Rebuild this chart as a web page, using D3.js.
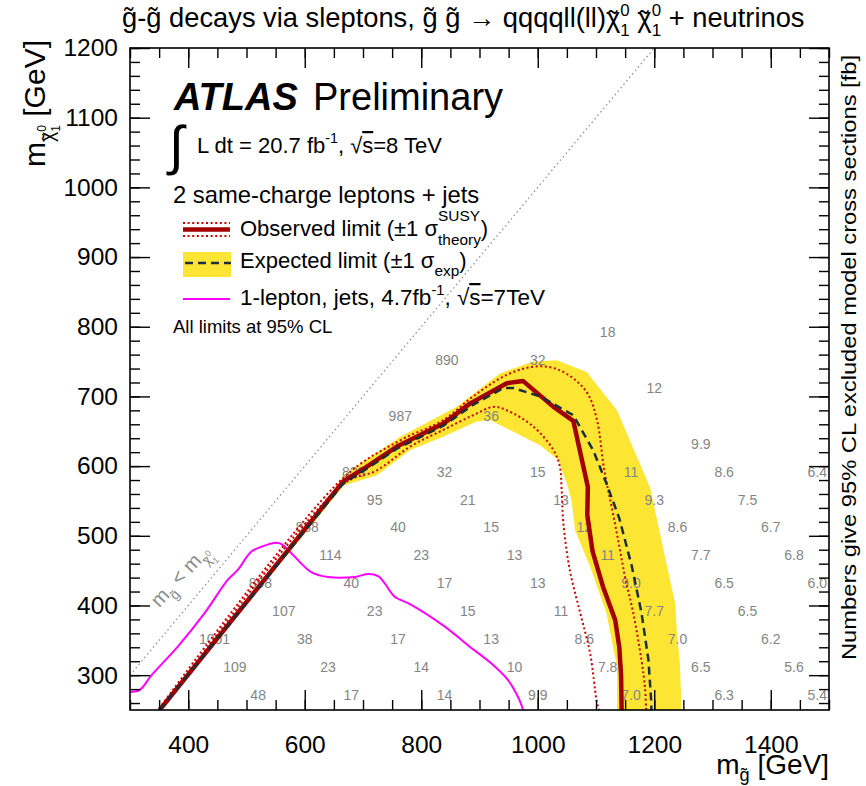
<!DOCTYPE html>
<html>
<head>
<meta charset="utf-8">
<script src="https://cdn.jsdelivr.net/npm/d3@7"></script>
<style>
  body { margin: 0; background: #fff; }
  text { font-family: "Liberation Sans", Arial, Helvetica, sans-serif; white-space: pre; }
</style>
</head>
<body>
<svg id="chart"></svg>
<script>
// Data (m_gluino, m_neutralino) in GeV
const obsLimit = [[351,250],[666,578],[706,599],[758,628],[792,642],[838,661],[884,690],[947,719],[975,722],
  [1027,685],[1061,665],[1086,570],[1085,530],[1094,478],[1112,427],[1133,379],[1140,340],[1143,300],[1144,250]];
const obsUp = [[350,252],[666,583],[764,637],[838,666],[889,700],[947,731],[995,743],[1030,740],[1064,724],
  [1087,702],[1102,665],[1114,595],[1128,537],[1140,485],[1150,440],[1164,389],[1178,322],[1184,283],[1186,250]];
const obsDown = [[353,250],[666,574],[724,594],[781,628],[838,652],[889,673],[924,685],[947,680],[992,657],
  [1027,623],[1038,599],[1041,566],[1044,518],[1055,451],[1073,389],[1090,331],[1101,264],[1105,250]];
const expLimit = [[351,250],[666,575],[706,596],[758,625],[792,639],[838,658],[889,688],[941,712],[958,712],
  [1004,700],[1061,673],[1095,623],[1118,575],[1140,525],[1161,458],[1178,390],[1190,322],[1195,260],[1195,250]];
const expBandOuter = [[348,250],[664,581],[666,587],[764,642],[861,685],[935,733],[992,750],[1033,752],
  [1084,735],[1136,680],[1193,569],[1221,460],[1236,403],[1239,360],[1244,317],[1247,250]];
const expBandInner = [[1136,250],[1136,312],[1118,389],[1090,456],[1064,508],[1058,551],[1050,575],[1035,609],
  [1004,630],[935,659],[918,666],[895,664],[838,642],[781,623],[724,587],[667,572],[354,250]];
const oneLepton7TeV = [[300,276],[317,279],[337,300],[382,341],[428,389],[468,437],[485,451],[508,477],[525,484],
  [551,490],[560,488],[577,475],[611,448],[640,441],[686,441],[709,445],[726,442],[737,432],[754,413],
  [783,401],[840,370],[880,343],[920,317],[949,293],[966,269],[975,250]];
const kinematicLimit = [[300,300],[1200,1200]];

// excluded cross sections [fb] at grid points: [m_gluino, m_neutralino, label]
const xsecNumbers = [
  [520,272,"48"],[680,272,"17"],[840,272,"14"],[1000,272,"9.9"],[1160,272,"7.0"],[1320,272,"6.3"],[1480,272,"5.4"],
  [480,312,"109"],[640,312,"23"],[800,312,"14"],[960,312,"10"],[1120,312,"7.8"],[1280,312,"6.5"],[1440,312,"5.6"],
  [445,352,"1001"],[600,352,"38"],[760,352,"17"],[920,352,"13"],[1080,352,"8.6"],[1240,352,"7.0"],[1400,352,"6.2"],
  [564,392,"107"],[720,392,"23"],[880,392,"15"],[1040,392,"11"],[1200,392,"7.7"],[1360,392,"6.5"],
  [524,432,"898"],[680,432,"40"],[840,432,"17"],[1000,432,"13"],[1160,432,"9.0"],[1320,432,"6.5"],[1480,432,"6.0"],
  [644,472,"114"],[800,472,"23"],[960,472,"13"],[1120,472,"11"],[1280,472,"7.7"],[1440,472,"6.8"],
  [604,512,"888"],[760,512,"40"],[920,512,"15"],[1080,512,"12"],[1240,512,"8.6"],[1400,512,"6.7"],
  [720,552,"95"],[880,552,"21"],[1040,552,"13"],[1200,552,"9.3"],[1360,552,"7.5"],
  [684,592,"823"],[840,592,"32"],[1000,592,"15"],[1160,592,"11"],[1320,592,"8.6"],[1480,592,"6.4"],
  [1280,632,"9.9"],
  [764,672,"987"],[920,672,"36"],
  [1200,712,"12"],
  [844,752,"890"],[1000,752,"32"],
  [1120,792,"18"]
];

const xMajor = [400,600,800,1000,1200,1400];
const xMinor = d3.range(300,1501,50);
const yMajor = [300,400,500,600,700,800,900,1000,1100,1200];
const yMinor = d3.range(260,1201,20);

// Dimensions
const dims = { width: 866, height: 786, left: 130, right: 829, top: 48, bottom: 710 };

const svg = d3.select("#chart").attr("width", dims.width).attr("height", dims.height);
svg.append("rect").attr("width", dims.width).attr("height", dims.height).attr("fill", "#fff");

const x = d3.scaleLinear().domain([300,1500]).range([dims.left, dims.right]);
const y = d3.scaleLinear().domain([250,1200]).range([dims.bottom, dims.top]);

svg.append("clipPath").attr("id","plotclip").append("rect")
  .attr("x", dims.left).attr("y", dims.top)
  .attr("width", dims.right - dims.left).attr("height", dims.bottom - dims.top);

const plot = svg.append("g").attr("clip-path","url(#plotclip)");
const line = d3.line().x(d => x(d[0])).y(d => y(d[1]));
const smooth = d3.line().x(d => x(d[0])).y(d => y(d[1])).curve(d3.curveCatmullRom.alpha(0.5));

// rich text: parts drawn one after another, "stack" puts a part over the previous one
function rich(parent, parts, size, anchor, fill) {
  const g = parent.append("g");
  let cur = 0, prevStart = 0;
  parts.forEach(p => {
    const start = (p.stack ? prevStart : cur) + (p.dx || 0) * size;
    const t = g.append("text")
      .attr("x", start)
      .attr("y", (p.dy || 0) * size)
      .attr("font-size", size * (p.s || 1))
      .attr("fill", fill || "#000")
      .text(p.t);
    if (p.style) t.attr("font-style", p.style);
    if (p.weight) t.attr("font-weight", p.weight);
    if (p.deco) t.style("text-decoration", p.deco);
    const w = t.node().getComputedTextLength();
    if (p.stack) cur = Math.max(cur, start + w);
    else { prevStart = start; cur = start + w; }
  });
  const shift = anchor === "end" ? -cur : anchor === "middle" ? -cur / 2 : 0;
  g.selectAll("text").attr("x", function () { return +this.getAttribute("x") + shift; });
  return g;
}

// chi~ with upper 0 and lower 1, at scale s and baseline shift dy
function chiParts(s, dy) {
  return [
    {t:"\u03C7", s:s, dy:dy},
    {t:"\u02DC", s:s, dy:dy + 0.12 * s, dx:0.08 * s, stack:true},
    {t:"0", s:s * 0.62, dy:dy - 0.42 * s},
    {t:"1", s:s * 0.62, dy:dy + 0.32 * s, stack:true}
  ];
}

// Expected band
plot.append("path")
  .datum(expBandOuter.concat(expBandInner))
  .attr("d", d => line(d) + "Z")
  .attr("fill", "#fde633");

// kinematic limit
plot.append("path").datum(kinematicLimit).attr("d", line)
  .attr("fill","none").attr("stroke","#8a8a8a").attr("stroke-width",1.2).attr("stroke-dasharray","1.5,3");

// numbers
plot.selectAll("text.xsec").data(xsecNumbers).join("text")
  .attr("class","xsec")
  .attr("x", d => x(d[0])).attr("y", d => y(d[1]))
  .attr("dy","0.36em").attr("text-anchor","middle")
  .attr("font-size", 14).attr("fill","#858585")
  .text(d => d[2]);

// 1-lepton 7 TeV
plot.append("path").datum(oneLepton7TeV).attr("d", smooth)
  .attr("fill","none").attr("stroke","#ff00ff").attr("stroke-width",2);

// observed +-1 sigma theory
[obsDown, obsUp].forEach(arr => {
  plot.append("path").datum(arr).attr("d", smooth)
    .attr("fill","none").attr("stroke","#cc0000").attr("stroke-width",2)
    .attr("stroke-dasharray","2,2.6");
});

plot.append("path").datum(obsLimit).attr("d", line)
  .attr("fill","none").attr("stroke","#a20000").attr("stroke-width",4.5).attr("stroke-linejoin","round");

plot.append("path").datum(expLimit).attr("d", line)
  .attr("fill","none").attr("stroke","#1e2d3a").attr("stroke-width",2.5).attr("stroke-dasharray","8,5");

// diagonal label
const diagLabel = rich(svg, [
  {t:"m"}, {t:"g\u0303", s:0.7, dy:0.35}, {t:" < m"}].concat(chiParts(0.7, 0.35)),
  20, "start", "#8a8a8a");
diagLabel.attr("transform", `translate(${x(350)},${y(396)}) rotate(-47)`);

// Axes and frame
function styleAxis(g) {
  g.select(".domain").remove();
  g.selectAll(".tick line").attr("stroke","#000").attr("stroke-width",1.4);
  g.selectAll(".tick text").attr("font-size",24.5).attr("fill","#000")
    .attr("font-family",'"Liberation Sans", Arial, sans-serif');
}
svg.append("g").attr("transform",`translate(0,${dims.bottom})`)
  .call(d3.axisBottom(x).tickValues(xMinor).tickSize(-10).tickFormat("")).call(styleAxis);
svg.append("g").attr("transform",`translate(0,${dims.bottom})`)
  .call(d3.axisBottom(x).tickValues(xMajor).tickSize(-20).tickPadding(26).tickFormat(d3.format("d"))).call(styleAxis);
svg.append("g").attr("transform",`translate(0,${dims.top})`)
  .call(d3.axisTop(x).tickValues(xMinor).tickSize(-10).tickFormat("")).call(styleAxis);
svg.append("g").attr("transform",`translate(0,${dims.top})`)
  .call(d3.axisTop(x).tickValues(xMajor).tickSize(-20).tickFormat("")).call(styleAxis);
svg.append("g").attr("transform",`translate(${dims.left},0)`)
  .call(d3.axisLeft(y).tickValues(yMinor).tickSize(-10).tickFormat("")).call(styleAxis);
svg.append("g").attr("transform",`translate(${dims.left},0)`)
  .call(d3.axisLeft(y).tickValues(yMajor).tickSize(-20).tickPadding(12).tickFormat(d3.format("d"))).call(styleAxis);
svg.append("g").attr("transform",`translate(${dims.right},0)`)
  .call(d3.axisRight(y).tickValues(yMinor).tickSize(-10).tickFormat("")).call(styleAxis);
svg.append("g").attr("transform",`translate(${dims.right},0)`)
  .call(d3.axisRight(y).tickValues(yMajor).tickSize(-20).tickFormat("")).call(styleAxis);

svg.append("rect")
  .attr("x", dims.left).attr("y", dims.top)
  .attr("width", dims.right - dims.left).attr("height", dims.bottom - dims.top)
  .attr("fill","none").attr("stroke","#000").attr("stroke-width",1.6);

// Title
rich(svg, [{t:"g\u0303-g\u0303 decays via sleptons, g\u0303 g\u0303 \u2192 qqqqll(ll)"}]
  .concat(chiParts(1, 0), [{t:" "}], chiParts(1, 0), [{t:" + neutrinos"}]),
  27.3, "start").attr("transform","translate(122,27)");

// axis titles
rich(svg, [{t:"m"}, {t:"g\u0303", s:0.65, dy:0.25}, {t:" [GeV]"}], 28, "end")
  .attr("transform",`translate(${dims.right},774)`);
rich(svg, [{t:"m"}].concat(chiParts(0.65, 0.3), [{t:" [GeV]"}]), 30, "end")
  .attr("transform","translate(45,40) rotate(-90)");
svg.append("text")
  .attr("transform","translate(856,55) rotate(-90)")
  .attr("text-anchor","end").attr("font-size",20.5)
  .attr("textLength", 605).attr("lengthAdjust","spacingAndGlyphs")
  .text("Numbers give 95% CL excluded model cross sections [fb]");

// Legend block
svg.append("text").attr("x",174).attr("y",110).attr("font-size",38)
  .attr("font-weight","bold").attr("font-style","italic").text("ATLAS");
svg.append("text").attr("x",313).attr("y",110).attr("font-size",38).text("Preliminary");
svg.append("text").attr("x",169).attr("y",164).attr("font-size",54).attr("font-family","DejaVu Sans").text("\u222B");
rich(svg, [{t:"L dt = 20.7 fb"}, {t:"-1", s:0.65, dy:-0.45}, {t:", \u221A"}, {t:"s", deco:"overline"}, {t:"=8 TeV"}], 22, "start")
  .attr("transform","translate(197,153)");
svg.append("text").attr("x",173).attr("y",203).attr("font-size",23.8).text("2 same-charge leptons + jets");

const leg = svg.append("g");
leg.append("line").attr("x1",183).attr("x2",230).attr("y1",223).attr("y2",223)
  .attr("stroke","#cc0000").attr("stroke-width",2).attr("stroke-dasharray","2,2.6");
leg.append("line").attr("x1",183).attr("x2",230).attr("y1",236).attr("y2",236)
  .attr("stroke","#cc0000").attr("stroke-width",2).attr("stroke-dasharray","2,2.6");
leg.append("line").attr("x1",183).attr("x2",230).attr("y1",229.5).attr("y2",229.5)
  .attr("stroke","#a20000").attr("stroke-width",4.5);
rich(svg, [{t:"Observed limit (\u00B11 \u03C3"}, {t:"SUSY", s:0.7, dy:-0.7}, {t:"theory", s:0.7, dy:0.4, stack:true}, {t:")"}], 22, "start")
  .attr("transform","translate(240,236)");

leg.append("rect").attr("x",183).attr("y",252).attr("width",48).attr("height",25).attr("fill","#fde633");
leg.append("line").attr("x1",185).attr("x2",231).attr("y1",263).attr("y2",263)
  .attr("stroke","#1e2d3a").attr("stroke-width",2.5).attr("stroke-dasharray","8,5");
rich(svg, [{t:"Expected limit (\u00B11 \u03C3"}, {t:"exp", s:0.7, dy:0.35}, {t:")"}], 22, "start")
  .attr("transform","translate(240,268)");

leg.append("line").attr("x1",183).attr("x2",230).attr("y1",299).attr("y2",299)
  .attr("stroke","#ff00ff").attr("stroke-width",2);
rich(svg, [{t:"1-lepton, jets, 4.7fb"}, {t:"-1", s:0.65, dy:-0.45}, {t:", \u221A"}, {t:"s", deco:"overline"}, {t:"=7TeV"}], 22.5, "start")
  .attr("transform","translate(240,305)");

svg.append("text").attr("x",173).attr("y",333).attr("font-size",18.5).text("All limits at 95% CL");
</script>
</body>
</html>
